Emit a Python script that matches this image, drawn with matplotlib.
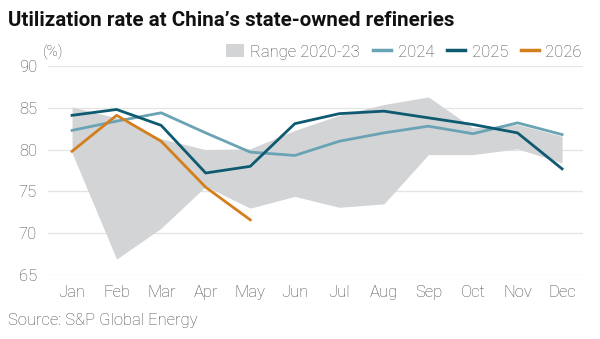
import matplotlib
matplotlib.use("Agg")
import matplotlib.pyplot as plt
from matplotlib.patches import Patch
from matplotlib.lines import Line2D

months = ["Jan", "Feb", "Mar", "Apr", "May", "Jun", "Jul", "Aug", "Sep", "Oct", "Nov", "Dec"]
range_low = [79.6, 66.9, 70.6, 75.6, 73.0, 74.4, 73.1, 73.5, 79.4, 79.4, 80.1, 78.4]
range_high = [85.1, 83.8, 81.3, 80.0, 80.1, 82.3, 84.1, 85.4, 86.3, 82.6, 83.0, 81.6]
y2024 = [82.3, 83.4, 84.4, 82.0, 79.7, 79.3, 81.0, 82.0, 82.8, 81.9, 83.2, 81.8]
y2025 = [84.1, 84.8, 82.9, 77.2, 78.0, 83.1, 84.3, 84.6, 83.8, 83.0, 82.0, 77.7]
y2026 = [79.8, 84.1, 81.0, 75.5, 71.6]
yticks = [65, 70, 75, 80, 85, 90]

c_range = "#d3d4d6"
c24 = "#6aa3b3"
c25 = "#0e5a70"
c26 = "#d47f1e"
c_text = "#4a4a4a"

plt.rcParams['font.family'] = ['Roboto', 'DejaVu Sans']

fig = plt.figure(figsize=(6, 3.39), dpi=100)
ax = fig.add_axes([48/600, 1-275/339, (583-48)/600, (275-66)/339])

x = list(range(len(months)))
ax.fill_between(x, range_low, range_high, color=c_range, lw=0, zorder=1)
ax.plot(x, y2024, color=c24, lw=2.0, zorder=3)
ax.plot(x, y2025, color=c25, lw=2.0, zorder=4)
ax.plot(list(range(len(y2026))), y2026, color=c26, lw=2.0, zorder=5)

ax.set_ylim(65, 90)
ax.set_xlim(-0.54, 11.47)
ax.set_yticks(yticks)
ax.set_xticks(x)
ax.set_xticklabels(months)
ax.grid(axis='y', color="#e4e4e4", lw=0.9, zorder=0)
ax.set_axisbelow(True)
for s in ax.spines.values():
    s.set_visible(False)
ax.tick_params(axis='both', length=0, labelsize=12, labelcolor=c_text)
ax.tick_params(axis='y', pad=8)
ax.tick_params(axis='x', pad=7)
for lab in ax.get_xticklabels() + ax.get_yticklabels():
    lab.set_fontweight('light')

fig.text(8/600, 1-20/339, "Utilization rate at China\u2019s state-owned refineries",
         fontsize=14.8, fontweight='bold', color="#111111", va='center', ha='left')
fig.text(43/600, 1-52/339, "(%)", fontsize=11, fontweight='light', color=c_text,
         va='center', ha='left')
fig.text(8/600, 1-320/339, "Source: S&P Global Energy", fontsize=12, fontweight='light',
         color=c_text, va='center', ha='left')

handles = [Patch(facecolor=c_range, edgecolor='none'),
           Line2D([], [], color=c24, lw=2.5),
           Line2D([], [], color=c25, lw=2.5),
           Line2D([], [], color=c26, lw=2.5)]
labels = ["Range 2020-23", "2024", "2025", "2026"]
leg = fig.legend(handles, labels, loc='center right', bbox_to_anchor=(582/600, 1-52/339),
                 ncol=4, frameon=False, fontsize=12, handlelength=1.05, handletextpad=0.4,
                 columnspacing=0.8, borderpad=0, borderaxespad=0, handleheight=0.8)
for t in leg.get_texts():
    t.set_color(c_text)
    t.set_fontweight('light')

fig.savefig("out.png", dpi=100)
